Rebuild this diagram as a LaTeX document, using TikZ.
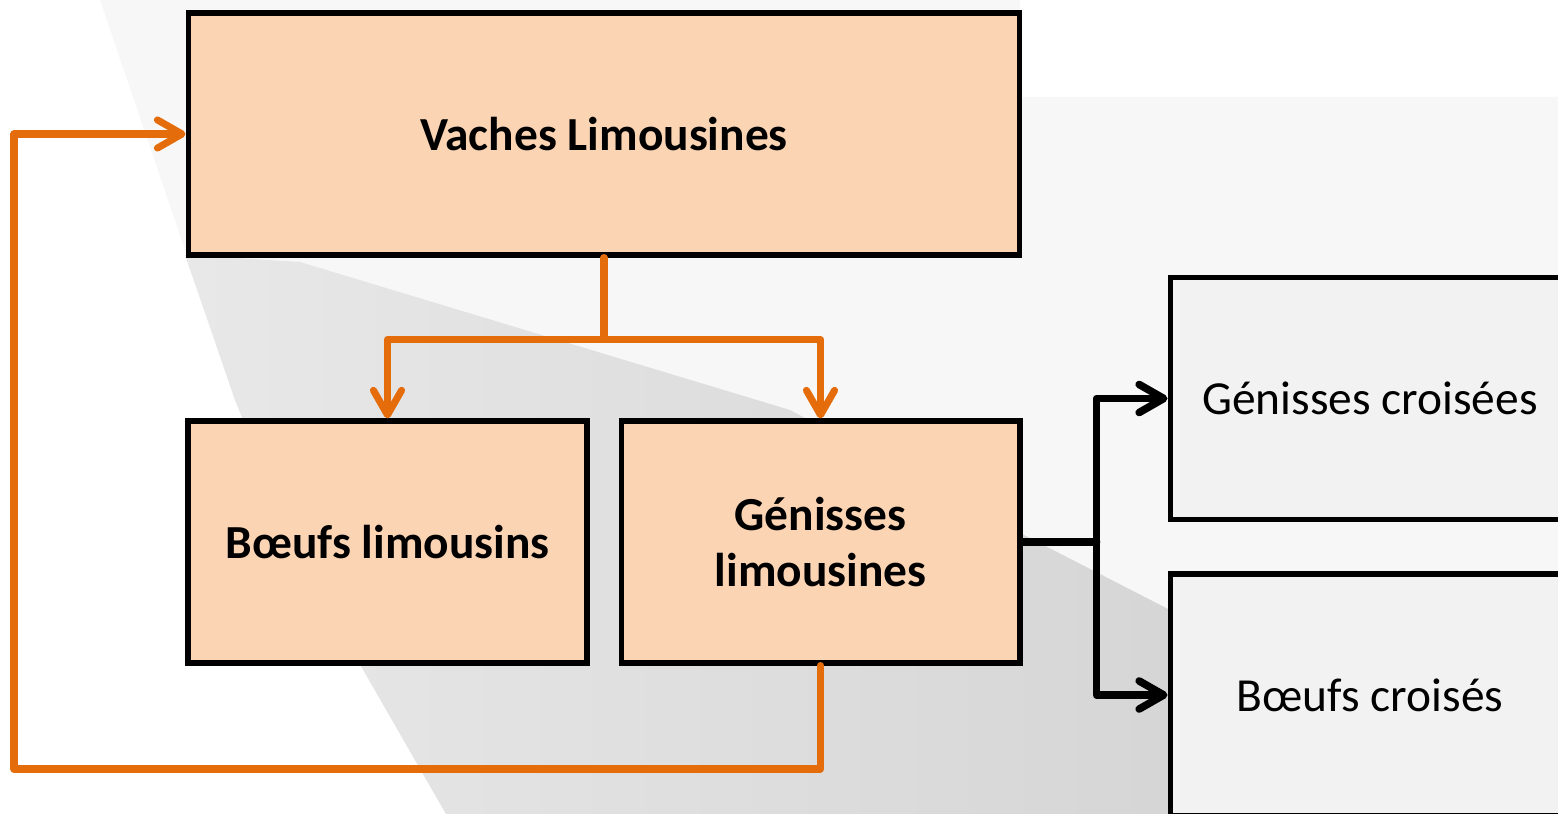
\documentclass[tikz,border=0pt]{standalone}
\usepackage{fontspec}
\setmainfont{Carlito}
\usetikzlibrary{arrows.meta}

\definecolor{peach}{HTML}{FBD4B4}
\definecolor{flow}{HTML}{E46C0A}
\definecolor{paleg}{HTML}{F2F2F2}

\begin{document}
\begin{tikzpicture}[x=0.02cm, y=-0.02cm,
    box/.style={draw=black, line width=2.9pt, minimum height=4.84cm, align=center,
                font=\fontsize{27}{32.4}\selectfont, inner sep=2pt},
    limbox/.style={box, fill=peach, font=\fontsize{27}{32.4}\selectfont\bfseries},
    crossbox/.style={box, fill=paleg, minimum width=8cm},
    flowline/.style={draw=flow, line width=4pt, line join=round, line cap=round},
    blackline/.style={draw=black, line width=4.3pt, line join=round, line cap=round},
    tip/.style={-{Straight Barb[length=14pt, width=16pt, round]}}]
\clip (0,0) rectangle (1558,814);

% Background swoosh
\fill[black!3] (100,0) -- (1020,0) -- (1020,97) -- (1558,97) -- (1558,814)
    -- (446,814) -- (300,560) -- (235,400) -- (185,250) -- cycle;
\shade[left color=black!9, right color=black!19]
    (185,255) -- (300,262) -- (790,410) -- (1020,533) -- (1170,610)
    -- (1558,800) -- (1558,814) -- (446,814) -- (300,560) -- (235,400) -- cycle;

% Boxes
\node[limbox, minimum width=16.64cm] (vaches) at (604,134) {Vaches Limousines};
\node[limbox, minimum width=7.98cm] (boeufL) at (387.5,542) {Bœufs limousins};
\node[limbox, minimum width=7.98cm] (genL) at (820.5,542) {Génisses\\limousines};
\node[crossbox] (genC) at (1370,398.5) {Génisses croisées};
\node[crossbox] (boeufC) at (1370,695) {Bœufs croisés};

% Orange flows
\draw[flowline] (vaches.south) -- ++(0,82) coordinate (split);
\draw[flowline, tip] (split) -| (boeufL.north);
\draw[flowline, tip] (split) -| (genL.north);
\coordinate (loop) at (14,769);
\draw[flowline, tip] (genL.south) |- (loop) |- (vaches.west);

% Black flows
\draw[blackline] (genL.east) -- ++(74,0) coordinate (fork);
\draw[blackline, tip] (fork) |- (genC.west);
\draw[blackline, tip] (fork) |- (boeufC.west);

\end{tikzpicture}
\end{document}
